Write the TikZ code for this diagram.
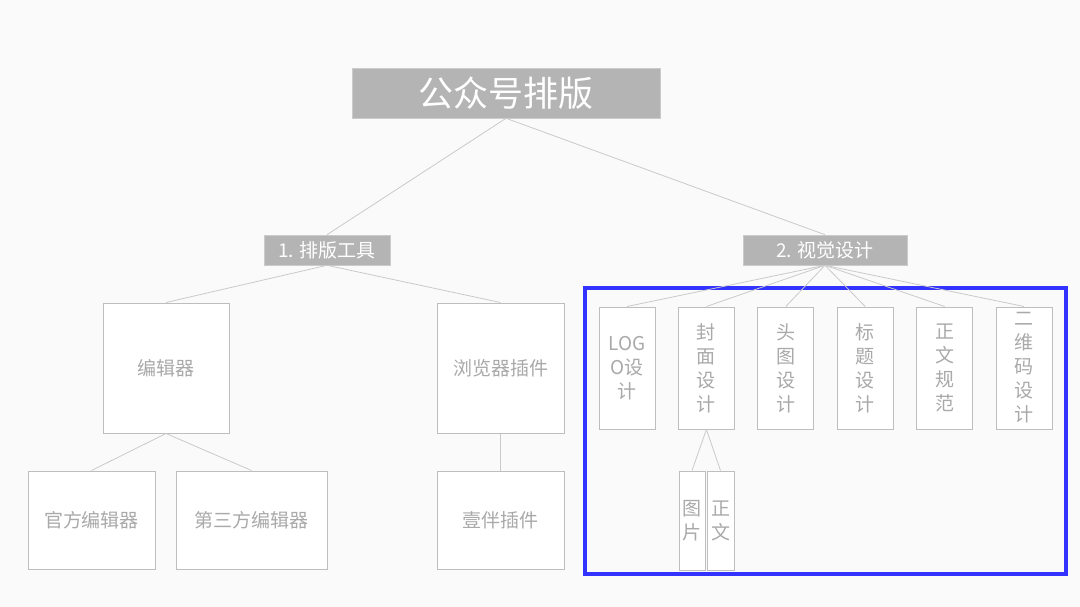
\documentclass[tikz,border=0pt]{standalone}
\usepackage{fontspec}
\setmainfont{Noto Sans CJK SC}
\definecolor{huiTou}{HTML}{B4B4B4}
\definecolor{huiKuang}{HTML}{BEBEBE}
\definecolor{huiXian}{HTML}{CACACA}
\definecolor{huiZi}{HTML}{A9A9A9}
\definecolor{lanKuang}{HTML}{3333FF}
\definecolor{beiJing}{HTML}{FAFAFA}
\usetikzlibrary{positioning}

\begin{document}
\begin{tikzpicture}[
  x=1pt, y=-1pt,
  node distance=22.4pt and 22.4pt,
  head/.style={rectangle, fill=huiTou, draw=huiTou!70, line width=0.6pt, text=white,
               inner sep=0pt, align=center},
  box/.style={rectangle, draw=huiKuang, fill=white, line width=1pt, inner sep=0pt,
              text=huiZi, align=center, font=\fontsize{19}{24}\selectfont},
  vbox/.style={box, minimum width=56pt, minimum height=122pt},
  tbox/.style={box, minimum width=26pt, minimum height=99pt},
  link/.style={draw=huiXian, line width=0.8pt}
]

% Hintergrund
\fill[beiJing] (0,0) rectangle (1080,607);
\useasboundingbox (0,0) rectangle (1080,607);

% Ebene 1
\node[head, minimum width=308pt, minimum height=50pt,
      font=\fontsize{35}{40}\selectfont] (gzh) at (506,93) {公众号排版};

% Ebene 2
\node[head, minimum width=126pt, minimum height=30pt,
      font=\fontsize{19}{22}\selectfont] (pbgj) at (327,250) {1. 排版工具};
\node[head, minimum width=164pt, minimum height=30pt,
      font=\fontsize{19}{22}\selectfont] (sjsj) at (825,250) {2. 视觉设计};

\draw[link] (gzh.south) -- (pbgj.north);
\draw[link] (gzh.south) -- (sjsj.north);

% Teil 1: Werkzeuge
\node[box, minimum width=126pt, minimum height=130pt] (bjq) at (166,368) {编辑器};
\node[box, minimum width=127pt, minimum height=130pt] (llq) at (500.5,368) {浏览器插件};
\node[box, minimum width=127pt, minimum height=98pt] (gfbjq) at (91.5,520) {官方编辑器};
\node[box, minimum width=151pt, minimum height=98pt, right=20pt of gfbjq] (dsfbjq) {第三方编辑器};
\node[box, minimum width=127pt, minimum height=98pt, below=37pt of llq] (ybcj) {壹伴插件};

\draw[link] (pbgj.south) -- (bjq.north);
\draw[link] (pbgj.south) -- (llq.north);
\draw[link] (bjq.south) -- (gfbjq.north);
\draw[link] (bjq.south) -- (dsfbjq.north);
\draw[link] (llq.south) -- (ybcj.north);

% Teil 2: Gestaltung
\draw[lanKuang, line width=4pt] (585,288) rectangle (1066,574);

\node[vbox] (logo) at (627,368) {LOG\\O设\\计};
\node[vbox, right=of logo] (fmsj) {封\\面\\设\\计};
\node[vbox, right=of fmsj] (ttsj) {头\\图\\设\\计};
\node[vbox, right=of ttsj] (btsj) {标\\题\\设\\计};
\node[vbox, right=of btsj] (zwgf) {正\\文\\规\\范};
\node[vbox, right=of zwgf] (ewm) {二\\维\\码\\设\\计};

\draw[link] (sjsj.south) -- (logo.north);
\draw[link] (sjsj.south) -- (fmsj.north);
\draw[link] (sjsj.south) -- (ttsj.north);
\draw[link] (sjsj.south) -- (btsj.north);
\draw[link] (sjsj.south) -- (zwgf.north);
\draw[link] (sjsj.south) -- (ewm.north);

\node[tbox] (tp) at (692,520.5) {图\\片};
\node[tbox, minimum width=27pt, right=1pt of tp] (zw) {正\\文};

\draw[link] (fmsj.south) -- (tp.north);
\draw[link] (fmsj.south) -- (zw.north);

\end{tikzpicture}
\end{document}
